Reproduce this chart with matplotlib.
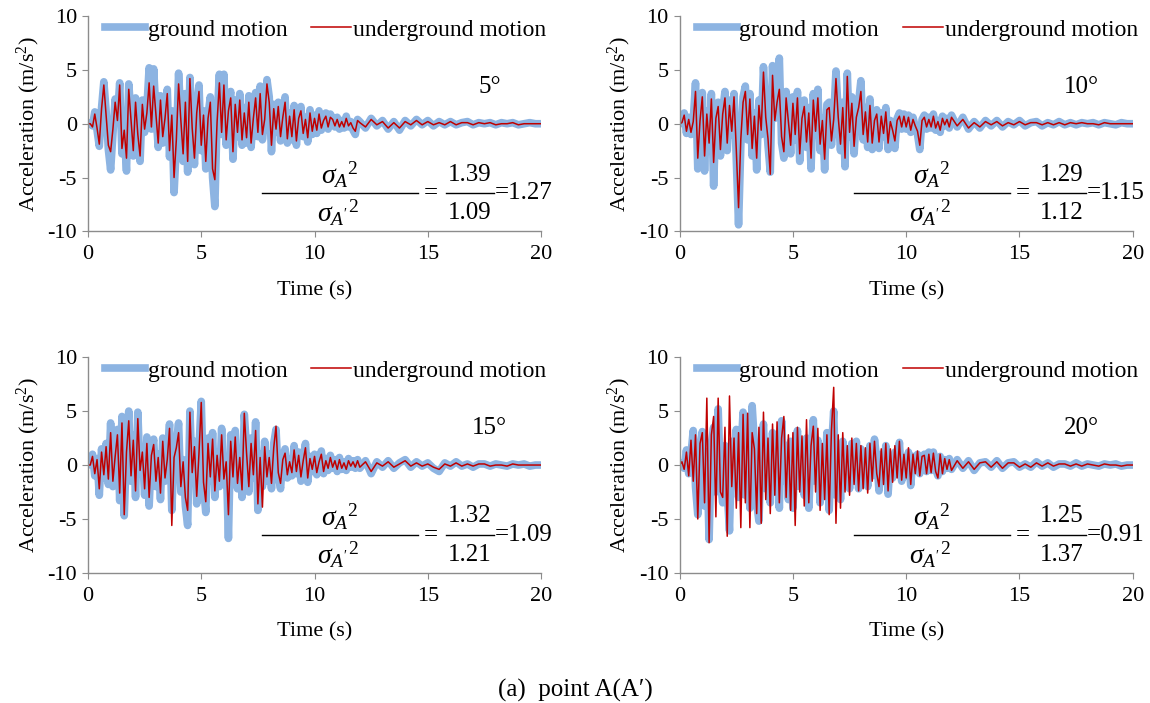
import numpy as np
import matplotlib
matplotlib.use("Agg")
import matplotlib.pyplot as plt
from matplotlib.lines import Line2D

plt.rcParams['font.family'] = ['Liberation Serif', 'DejaVu Serif']
plt.rcParams['mathtext.fontset'] = 'custom'
plt.rcParams['mathtext.rm'] = 'Liberation Serif'
plt.rcParams['mathtext.it'] = 'Liberation Serif:italic'
plt.rcParams['axes.unicode_minus'] = False

# time grid: 0.1 s steps up to 12 s, then 0.25 s steps to 20 s
time = list(np.round(np.arange(0, 12.01, 0.1), 2)) + list(np.arange(12.25, 20.01, 0.25))

angles = ["5°", "10°", "15°", "20°"]
var_ground = [1.39, 1.29, 1.32, 1.25]
var_under = [1.09, 1.12, 1.21, 1.37]
ratio = [1.27, 1.15, 1.09, 0.91]

# 5 degrees
ground_5 = [0.0, 0.1, -0.2, 1.1, -0.6, -2.1, 1.5, 3.9, 1.2, -2.4,
            -4.3, -1.0, 2.3, 0.6, 3.8, -2.8, -1.0, -4.4, 3.7, 0.8,
            -3.0, 2.4, -1.5, -3.5, 2.2, -0.8, 1.5, 5.2, -0.5, 5.1,
            1.0, -2.2, 2.6, -1.8, 0.9, 3.2, -3.1, 1.2, -6.4, -2.0,
            4.7, 0.5, -3.5, 2.8, -4.5, 4.3, -0.8, -3.8, 1.5, 3.6,
            -2.5, 1.2, -4.2, 0.8, 2.5, -5.0, -7.7, 0.5, 4.6, -1.0,
            4.6, -2.0, 1.8, 3.0, -3.3, 2.2, -1.2, 2.8, -2.0, 1.5,
            -1.8, 2.6, -2.2, 0.8, 2.9, -1.2, 3.5, -1.5, 0.6, 4.1,
            2.5, -2.6, 1.8, -0.8, 2.0, -1.6, 0.9, 2.5, -1.8, 1.0,
            -1.5, 1.7, -2.0, 0.8, 1.6, -1.2, 0.6, -1.7, 1.3, -1.0,
            0.8, -0.9, 1.2, -0.6, 0.4, 1.0, -0.5, 0.9, 0.5, -0.3,
            0.6, -0.5, 0.3, -0.4, 0.7, -0.3, 0.2, -0.6, -1.0, 0.4,
            0.2,
            -0.4, 0.5, -0.2, 0.3, -0.5, 0.2, -0.6, 0.3, -0.2, 0.4, -0.1, 0.3, -0.2, 0.2, -0.1, 0.2,
            -0.1, 0.1, 0.2, -0.1, 0.1, 0.0, 0.1, -0.1, 0.1, 0.0, 0.1, -0.1, 0.0, 0.1, 0.0, 0.0]
under_5 = [0.0, 0.0, -0.3, 0.9, -0.4, -1.9, 1.4, 3.6, 0.8, -2.0,
           -2.6, -0.5, 2.0, 0.3, 3.6, -2.3, -0.6, -3.2, 3.2, 0.4,
           -2.5, 2.0, -1.0, -3.0, 1.8, -0.5, 1.0, 3.8, -0.3, 3.5,
           0.8, -1.8, 2.2, -1.2, 0.5, 2.8, -2.5, 0.8, -5.0, -1.5,
           3.7, 0.3, -2.8, 2.0, -3.5, 4.2, -0.4, -3.2, 1.0, 3.0,
           -2.0, 0.8, -3.5, 0.5, 2.0, -4.2, -5.2, 0.2, 3.8, -0.8,
           3.6, -1.5, 1.2, 2.4, -2.6, 1.8, -0.8, 2.2, -1.5, 1.0,
           -1.3, 2.0, -1.8, 0.5, 2.4, -0.8, 2.8, -1.0, 0.4, 3.7,
           2.0, -2.0, 1.4, -0.5, 1.6, -1.2, 0.6, 2.0, -1.4, 0.7,
           -1.2, 1.3, -1.6, 0.5, 1.2, -0.9, 0.4, -1.3, 1.0, -0.7,
           0.5, -0.6, 0.9, -0.4, 0.3, 0.7, -0.3, 0.6, 0.4, -0.2,
           0.4, -0.3, 0.2, -0.3, 0.5, -0.2, 0.1, -0.4, -0.7, 0.3,
           0.1,
           -0.3, 0.4, -0.1, 0.2, -0.4, 0.1, -0.4, 0.2, -0.1, 0.3, -0.1, 0.2, -0.1, 0.1, -0.1, 0.2,
           -0.1, 0.1, 0.1, -0.1, 0.1, 0.0, 0.1, -0.1, 0.0, 0.0, 0.1, -0.1, 0.0, 0.0, 0.0, 0.0]

# 10 degrees
ground_10 = [0.0, 0.2, 1.0, -0.9, 0.6, -1.0, 0.3, 3.8, -4.2, 0.5,
             2.9, -4.4, 1.2, -2.5, 2.8, -5.8, 0.8, 2.0, -3.0, 1.2,
             3.0, -2.5, 2.2, -1.0, 2.8, -3.2, -9.4, -2.0, 2.5, 3.5,
             -1.5, 2.8, -3.0, 1.0, -4.3, 2.2, -1.0, 5.3, 1.0, -2.0,
             -4.5, 5.4, 0.5, 2.5, 6.1, -1.8, -3.2, 3.0, 0.5, -2.8,
             2.5, -1.5, 3.0, -3.5, 0.8, 2.2, -2.2, 1.5, -4.2, 2.8,
             -1.0, 3.2, -2.5, 0.5, -4.3, 1.8, 2.0, -2.0, 0.6, 4.9,
             1.0, -2.5, 2.0, -4.0, 4.7, -1.2, 2.5, -2.8, 1.0, 2.0,
             4.0, -1.5, 1.5, -2.2, 2.3, -2.4, 0.5, 1.3, -2.3, 1.0,
             -1.2, 1.5, -2.4, 0.3, -0.8, -2.3, 0.5, 1.0, -0.5, 0.9,
             -0.5, 0.8, -0.8, 0.6, -0.3, -1.0, -2.4, 0.4, 0.8, -0.5,
             0.6, -0.4, 0.9, -0.6, 0.3, -0.8, 0.7, -0.2, 0.5, -0.4,
             0.8,
             -0.3, 0.6, -0.5, 0.2, -0.4, 0.3, -0.2, 0.3, -0.3, 0.2, -0.1, 0.3, -0.2, 0.1, 0.2, -0.2,
             0.1, -0.1, 0.2, -0.1, 0.1, -0.1, 0.1, 0.0, 0.1, -0.1, 0.1, 0.0, -0.1, 0.1, 0.0, 0.0]
under_10 = [0.0, 0.1, 0.8, -0.7, 0.4, -0.8, 0.2, 3.0, -3.2, 0.3,
            2.5, -3.0, 0.9, -1.8, 2.3, -3.6, 0.5, 1.6, -2.4, 0.9,
            2.4, -1.8, 1.7, -0.7, 2.5, -2.4, -7.8, -1.4, 2.0, 3.0,
            -1.0, 2.3, -2.3, 0.7, -3.2, 1.7, -0.6, 4.8, 0.6, -1.4,
            -4.7, 4.5, 0.3, 2.0, 3.2, -1.2, -2.6, 2.4, 0.2, -2.0,
            1.9, -1.0, 2.4, -2.8, 0.5, 1.6, -1.7, 1.0, -3.2, 2.2,
            -0.7, 2.4, -1.9, 0.3, -3.3, 1.3, 1.5, -1.6, 0.4, 4.2,
            0.6, -1.9, 1.5, -3.2, 4.4, -0.8, 1.9, -2.1, 0.6, 1.5,
            3.0, -1.0, 1.1, -1.7, 1.7, -1.8, 0.3, 0.9, -1.7, 0.7,
            -0.9, 1.1, -1.8, 0.2, -0.6, -1.6, 0.3, 0.7, -0.3, 0.7,
            -0.3, 0.6, -0.6, 0.4, -0.2, -0.7, -2.0, 0.3, 0.6, -0.3,
            0.4, -0.3, 0.7, -0.4, 0.2, -0.6, 0.5, -0.1, 0.4, -0.3,
            0.6,
            -0.2, 0.4, -0.4, 0.1, -0.3, 0.2, -0.1, 0.2, -0.2, 0.1, -0.1, 0.2, -0.1, 0.1, 0.1, -0.1,
            0.1, -0.1, 0.1, -0.1, 0.1, 0.0, 0.1, 0.0, 0.0, -0.1, 0.1, 0.0, 0.0, 0.0, 0.0, 0.0]

# 15 degrees
ground_15 = [0.0, 0.1, 1.0, -1.0, 0.6, -2.8, 1.5, -1.2, 2.0, -1.8,
             3.9, -2.0, 1.0, 3.3, -3.3, 4.5, -4.7, 1.5, 5.0, -1.5,
             2.8, -3.0, 4.9, -0.8, 1.5, -2.8, 2.6, -3.8, 1.2, 2.4,
             -2.0, 1.0, -3.2, 2.5, -1.5, 0.8, 3.8, -4.2, 1.0, 2.0,
             3.9, -2.5, 0.5, -3.8, -5.6, 5.0, -1.0, 2.2, -3.6, 1.5,
             5.9, -2.0, -4.4, 2.5, -1.5, 3.0, -3.0, 1.2, -2.0, 3.4,
             -1.8, 0.5, -6.8, 2.8, -1.5, 3.2, -2.2, 1.0, -3.0, 4.7,
             1.5, -2.5, 2.5, -1.2, 4.0, -4.2, 1.0, -2.0, 2.2, -1.5,
             1.0, -2.2, 2.0, 3.3, -1.0, -2.2, 0.8, 1.5, -1.2, 0.5,
             -1.0, 1.8, -0.8, 1.2, -1.5, 0.6, 2.0, -1.6, 0.8, -0.6,
             1.0, -0.9, 0.5, 1.3, -0.8, 0.6, -0.5, 0.9, -0.3, 0.5,
             -0.6, 0.7, -0.4, 0.3, -0.5, 0.6, -0.2, 0.4, -0.3, 0.5,
             -0.3,
             0.4, -0.8, 0.3, -0.2, 0.4, -0.3, 0.2, 0.5, -0.2, 0.3, -0.1, 0.2, -0.3, -0.6, 0.2, -0.1,
             0.3, -0.1, 0.1, -0.2, 0.1, 0.1, -0.1, 0.1, 0.0, -0.1, 0.1, 0.0, 0.1, -0.1, 0.0, 0.0]
under_15 = [0.0, 0.0, 0.8, -0.8, 0.5, -2.2, 1.2, -0.9, 1.7, -1.3,
            3.0, -1.5, 0.8, 2.8, -2.6, 3.9, -4.6, 1.2, 4.1, -1.0,
            2.3, -2.4, 4.3, -0.5, 1.2, -2.2, 2.0, -3.0, 0.9, 1.9,
            -1.5, 0.7, -2.6, 2.2, -1.2, 0.5, 3.4, -5.6, 0.7, 1.6,
            3.0, -2.0, 0.3, -3.0, -4.2, 4.9, -0.7, 1.7, -2.9, 1.1,
            5.8, -1.6, -3.4, 2.0, -1.1, 2.4, -2.4, 0.9, -1.5, 2.8,
            -1.3, 0.3, -4.6, 2.2, -1.1, 2.6, -1.7, 0.7, -2.3, 4.8,
            1.1, -2.0, 2.0, -0.9, 3.2, -3.6, 0.7, -3.9, 1.7, -1.1,
            0.7, -1.7, 1.6, 3.6, -0.7, -1.7, 0.5, 1.1, -0.9, 0.3,
            -0.7, 1.4, -0.6, 0.9, -1.1, 0.4, 1.6, -1.2, 0.6, -0.4,
            0.8, -0.7, 0.3, 1.0, -0.6, 0.4, -0.3, 0.7, -0.2, 0.4,
            -0.4, 0.5, -0.3, 0.2, -0.4, 0.4, -0.1, 0.3, -0.2, 0.4,
            -0.2,
            0.3, -0.6, 0.2, -0.1, 0.3, -0.2, 0.1, 0.4, -0.1, 0.2, -0.1, 0.1, -0.2, -0.4, 0.1, -0.1,
            0.2, -0.1, 0.1, -0.1, 0.1, 0.1, -0.1, 0.0, 0.0, -0.1, 0.1, 0.0, 0.0, 0.0, 0.0, 0.0]

# 20 degrees
ground_20 = [0.0, 0.2, -0.3, 1.4, -0.8, 1.0, 3.2, -2.0, -4.6, 1.5,
             3.1, -3.8, 1.2, -6.9, 2.0, 3.5, -2.5, 5.2, -1.5, -3.5,
             1.8, -2.5, -6.1, 2.2, -1.5, 3.3, -3.0, 1.0, 4.9, -2.8,
             1.5, -4.0, 5.5, 2.0, -3.5, -5.2, 1.5, 3.8, -2.2, 0.8,
             -3.5, 3.0, -1.2, 2.5, -4.0, 4.1, -1.5, 1.8, -3.2, 2.2,
             -4.0, 1.5, 3.2, -2.0, 0.8, -2.8, 2.5, -4.0, 1.0, 4.2,
             -1.5, 2.3, -3.5, 1.0, -2.0, 3.0, -4.2, 1.5, 5.0, -2.8,
             1.5, -3.2, 2.2, -1.5, 0.8, -2.2, 2.0, -1.2, 2.2, -2.2,
             1.5, -1.8, 0.7, -2.0, 1.8, -1.0, 2.4, 0.5, -2.4, 1.0,
             -1.5, 1.8, -2.7, 0.8, -1.2, 1.2, -0.8, 2.1, -1.5, 0.6,
             -1.0, 1.2, -1.9, 0.8, -0.5, 1.0, -0.8, 0.6, 1.0, -0.6,
             1.2, -0.5, 1.2, -0.4, -1.0, 0.8, -0.6, 0.5, -0.3, 0.6,
             -0.4,
             0.5, -0.3, 0.4, -0.5, 0.2, 0.3, -0.2, 0.4, -0.3, 0.2, 0.3, -0.2, 0.1, -0.2, 0.3, -0.1,
             0.2, -0.2, 0.1, 0.1, -0.1, 0.2, -0.1, 0.1, 0.0, -0.1, 0.1, 0.0, 0.1, -0.1, 0.0, 0.0]
under_20 = [0.0, 0.3, -0.4, 1.2, -1.0, 2.3, -1.5, 2.8, -5.0, 2.0,
            3.0, -3.5, 6.2, -7.2, 2.8, 4.5, -4.8, 6.2, -2.5, -3.0,
            3.5, -6.6, 6.4, -2.0, 2.5, -4.0, 3.0, -5.8, 4.7, -3.5,
            4.8, -5.8, 3.0, 1.5, -4.5, 3.5, -5.4, 4.9, -3.2, 2.5,
            -4.5, 3.8, -2.8, 4.0, -3.5, 2.5, 4.5, -3.0, 2.8, -4.2,
            3.0, -5.6, 3.5, -2.5, 2.7, -3.8, 4.2, -3.5, 1.8, 3.6,
            -2.5, 3.4, -4.2, 2.0, -3.2, 2.8, -4.6, 3.2, 7.2, -5.4,
            2.8, -4.0, 3.0, -2.5, 1.8, -2.8, 2.5, -1.8, 2.0, -2.4,
            1.8, -2.2, 1.6, -2.6, 2.0, -1.5, 2.2, -0.8, -2.0, 1.5,
            -1.8, 2.0, -2.4, 1.5, -1.6, 1.8, -1.2, 2.2, -1.4, 1.0,
            -1.2, 1.6, -1.8, 1.0, -0.8, 1.3, -1.0, 0.8, 0.9, -0.8,
            1.0, -0.7, 1.1, -0.6, -1.2, 1.0, -0.8, 0.6, -0.4, 0.5,
            -0.5,
            0.4, -0.3, 0.3, -0.4, 0.2, 0.3, -0.2, 0.3, -0.3, 0.2, 0.2, -0.2, 0.1, -0.2, 0.2, -0.1,
            0.2, -0.1, 0.1, 0.1, -0.1, 0.1, -0.1, 0.1, 0.0, -0.1, 0.1, 0.0, 0.0, -0.1, 0.0, 0.0]

grounds = [ground_5, ground_10, ground_15, ground_20]
unders = [under_5, under_10, under_15, under_20]

blue = '#8db4e2'
red = '#c00000'
grey = '#8c8c8c'

fig = plt.figure(figsize=(11.5, 7.03), dpi=100)
boxes = [[0.0765, 0.671, 0.394, 0.306],
         [0.591, 0.671, 0.394, 0.306],
         [0.0765, 0.185, 0.394, 0.307],
         [0.591, 0.185, 0.394, 0.307]]

for i in range(4):
    ax = fig.add_axes(boxes[i])
    ax.plot(time, grounds[i], color=blue, lw=5.5, solid_joinstyle='round', label='ground motion')
    ax.plot(time, unders[i], color=red, lw=1.1, label='underground motion')
    ax.set_xlim(0, 20)
    ax.set_ylim(-10, 10)
    ax.set_xticks([0, 5, 10, 15, 20])
    ax.set_yticks([-10, -5, 0, 5, 10])
    for s in ['top', 'right']:
        ax.spines[s].set_visible(False)
    for s in ['left', 'bottom']:
        ax.spines[s].set_color(grey)
        ax.spines[s].set_linewidth(1.0)
    ax.tick_params(direction='out', length=4, color=grey, labelsize=16)
    ax.tick_params(axis='x', pad=6)
    ax.tick_params(axis='y', pad=4)
    ax.set_xlabel('Time (s)', fontsize=16, labelpad=12)
    ax.set_ylabel('Acceleration (m/s$^2$)', fontsize=16, labelpad=4)
    ax.legend(loc='upper center', ncol=2, frameon=False, fontsize=17,
              bbox_to_anchor=(0.525, 1.085), handlelength=1.7, handletextpad=0.1,
              columnspacing=1.0)

    ax.text(0.887, 0.67, angles[i], transform=ax.transAxes, fontsize=18,
            ha='center', va='center')
    # variance ratio
    ax.add_line(Line2D([0.384, 0.728], [0.177, 0.177], transform=ax.transAxes,
                       color='k', lw=1.0))
    ax.text(0.556, 0.262, r'${\sigma_{A}}^{\mathrm{2}}$', transform=ax.transAxes,
            fontsize=20, ha='center', va='center')
    ax.text(0.552, 0.085, r"${\sigma_{A'}}^{\mathrm{2}}$", transform=ax.transAxes,
            fontsize=20, ha='center', va='center')
    ax.text(0.757, 0.177, '=', transform=ax.transAxes, fontsize=18,
            ha='center', va='center')
    ax.add_line(Line2D([0.79, 0.896], [0.177, 0.177], transform=ax.transAxes,
                       color='k', lw=1.0))
    ax.text(0.843, 0.262, '%.2f' % var_ground[i], transform=ax.transAxes,
            fontsize=18, ha='center', va='center')
    ax.text(0.843, 0.085, '%.2f' % var_under[i], transform=ax.transAxes,
            fontsize=18, ha='center', va='center')
    ax.text(0.898, 0.177, '=%.2f' % ratio[i], transform=ax.transAxes,
            fontsize=18, ha='left', va='center')

fig.text(0.5, 1 - 690 / 703, '(a)  point A(A\u2032)', fontsize=18, ha='center', va='center')

fig.savefig('out.png', dpi=100)
plt.close(fig)
